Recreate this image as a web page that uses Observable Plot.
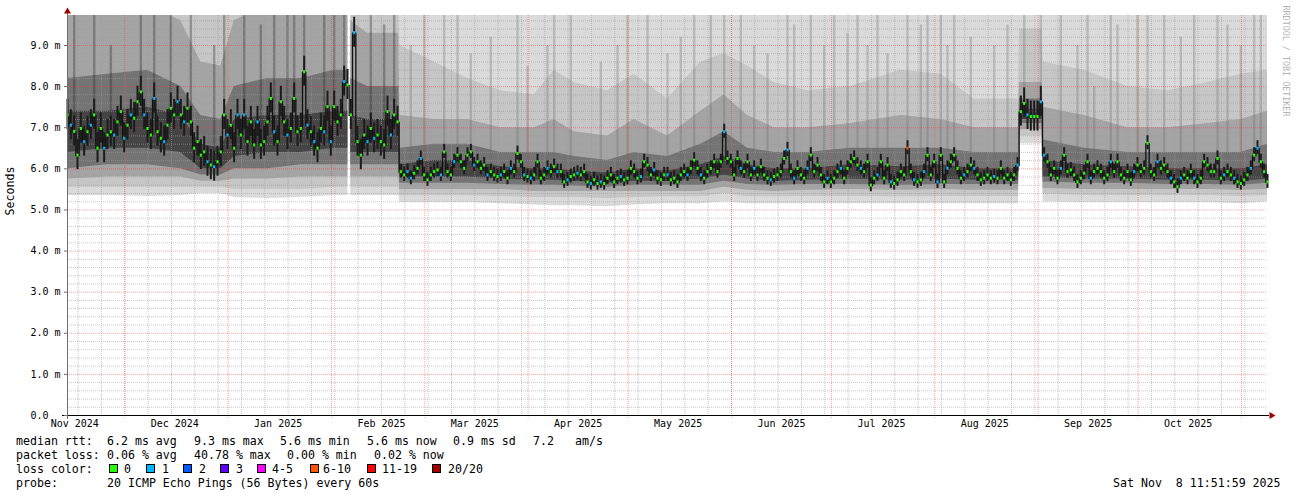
<!DOCTYPE html>
<html><head><meta charset="utf-8">
<script src="https://cdn.jsdelivr.net/npm/d3@7"></script>
<script src="https://cdn.jsdelivr.net/npm/@observablehq/plot@0.6"></script>
<style>
body{margin:0;background:#fff;}
#wrap{position:relative;width:1297px;height:497px;overflow:hidden;background:#fff;}
#wrap svg{display:block;}
.lg{position:absolute;font-family:"DejaVu Sans Mono",monospace;font-size:11.6px;line-height:14px;white-space:pre;color:#000;}
.box{position:absolute;width:7px;height:7px;border:1px solid #000;}
</style></head><body><div id="wrap"></div>
<script>
// ---------- data ----------
const startDate = "2024-11-13T19:30:00Z";
const endDate   = "2025-11-08T19:30:00Z";
// daily median rtt (ms), one value per day from startDate
const medianMs = [
7.30,7.05,6.90,6.32,6.97,6.65,6.89,7.05,7.30,6.49,
6.97,6.49,6.81,6.89,6.81,7.13,7.38,6.73,7.05,7.30,
7.22,7.62,7.86,7.30,6.97,6.81,7.70,6.89,6.73,6.65,
7.05,7.46,7.30,7.62,7.30,7.13,7.46,7.13,6.49,6.65,
6.32,6.40,6.16,6.08,6.04,6.16,6.40,7.30,6.81,7.05,
6.49,7.30,6.81,7.30,6.65,7.13,6.57,7.13,6.57,6.65,
7.13,7.70,6.89,6.65,7.62,7.13,6.81,6.97,7.70,6.89,
6.97,8.35,7.05,6.89,6.65,6.49,6.97,6.89,7.50,6.65,
7.50,7.13,7.30,8.11,8.03,7.30,9.30,6.65,6.32,6.81,
6.65,6.97,6.73,6.81,6.65,6.57,7.38,6.81,7.30,7.13,
5.92,5.84,5.92,5.76,5.88,6.00,6.24,5.84,5.72,5.84,
5.92,5.96,5.84,6.40,5.92,5.84,6.16,6.32,6.16,6.00,
6.32,6.40,6.08,6.16,6.00,6.08,5.84,5.92,5.84,5.80,
5.84,5.92,5.76,6.00,5.92,6.36,6.16,5.84,5.80,5.76,
5.84,6.16,5.76,5.84,6.00,5.92,6.04,5.92,5.92,5.67,
5.72,5.80,5.84,5.88,5.84,5.92,5.67,5.63,5.72,5.63,
5.67,5.63,5.76,5.84,5.67,5.76,5.80,5.72,5.76,6.00,
5.92,5.76,5.80,6.16,6.08,5.84,5.96,5.76,5.72,5.84,
5.84,5.72,5.76,5.67,5.84,5.92,5.84,6.00,6.20,6.00,
5.84,5.76,5.92,6.00,6.16,5.92,6.16,6.89,6.24,6.16,
5.84,6.24,6.00,5.92,6.16,5.84,6.00,5.84,6.04,5.84,
5.76,5.72,5.80,5.84,5.92,6.24,6.45,5.92,5.76,6.00,
5.84,5.76,6.00,6.32,5.92,6.08,5.84,5.67,5.76,5.67,
5.76,5.92,6.00,5.76,6.00,6.16,6.24,6.08,6.00,5.92,
6.16,5.59,5.76,5.84,6.16,5.76,6.08,5.67,5.63,5.72,
5.92,5.84,6.49,5.92,5.72,5.67,5.72,5.92,6.32,5.84,
6.16,5.67,6.32,5.67,6.00,6.16,6.32,6.00,5.76,5.84,
5.92,6.08,6.00,5.84,5.72,5.76,5.84,5.76,5.80,5.76,
6.00,5.76,5.84,5.72,5.84,6.08,7.38,7.58,7.30,7.26,
7.26,7.26,7.62,6.32,6.16,5.84,6.00,5.76,6.00,6.32,
5.92,5.96,5.84,5.67,5.76,5.88,6.16,5.76,5.92,6.00,
5.92,5.76,5.84,6.16,5.92,6.16,5.84,5.76,5.92,5.72,
5.92,6.08,5.92,6.00,6.61,5.92,5.84,6.16,6.00,6.08,
5.92,5.76,5.67,5.55,5.76,5.84,5.76,5.92,5.76,5.67,
5.76,6.16,6.08,5.92,5.92,6.24,5.76,5.84,5.92,5.84,
5.76,5.67,5.63,5.72,5.84,6.00,6.32,6.49,6.16,5.92,
5.67];
// days (index into medianMs) whose median was drawn with 1 lost ping (blue) / 6-10 lost (orange)
const blueDays = [1,5,7,11,14,17,19,23,26,29,33,35,42,44,48,51,53,57,62,66,72,74,77,79,83,86,90,92,97,
102,103,106,112,116,122,126,130,133,137,139,144,147,150,153,157,160,166,172,176,180,186,190,197,202,206,211,
216,218,222,228,232,238,243,247,254,257,261,264,269,272,278,285,288,292,293,298,307,313,320,327,331,334,338,347,350,355,357];
const orangeDays = [252];

// days with a tall smoke streak (slowest pings) and how high it reaches (ms)
const streakDays = [2,8,13,22,26,31,37,44,47,53,58,62,66,68,71,77,80,83,91,95,98,
103,107,113,117,121,127,135,138,144,146,151,160,165,168,174,180,184,188,193,197,202,206,210,216,218,223,227,230,234,237,240,243,246,252,256,258,262,264,266,271,278,282,
287,292,298,303,306,308,313,315,321,324,329,334,338,345,348,352,356,358];
const streakTop = [9.8,9.8,9.0,9.8,9.8,9.8,9.8,9.0,9.8,9.8,9.5,9.8,9.8,9.8,9.8,9.8,9.8,9.8,9.8,9.5,9.8,
9.0,9.8,9.8,9.8,8.8,9.2,9.8,8.5,9.0,9.8,9.8,8.6,9.0,9.8,9.8,8.8,9.2,9.8,9.8,9.8,9.8,9.0,8.8,9.8,9.5,9.8,9.0,9.8,9.3,9.8,9.0,9.8,8.8,9.8,9.5,9.8,9.8,9.0,9.8,9.2,9.0,9.5,
9.8,9.8,9.8,9.0,9.8,8.0,9.8,9.5,9.8,9.8,9.8,9.2,9.8,9.8,9.5,9.0,9.8,9.8];

// smoke (ping distribution) envelopes, day offsets from startDate
const smokeDay = [0,12,24,34,40,46,50,60,70,80,84.1,84.5,85,90,99.4,99.7,110,120,130,140,146,152,162,170,180,190,197,204,212,222,235,250,262,272,285.3,285.6,292.4,292.7,305,318,330,342,352,360];
const smokeLo1 = [5.35,5.35,5.33,5.35,5.4,5.4,5.3,5.28,5.3,5.35,5.35,null,5.35,5.35,5.35,5.18,5.18,5.18,5.15,5.12,5.1,5.1,5.08,5.12,5.15,5.15,5.2,5.15,5.15,5.15,5.15,5.15,5.15,5.15,5.15,6.61,6.61,5.2,5.18,5.18,5.18,5.18,5.15,5.2];
const smokeLo2 = [5.55,5.55,5.55,5.55,5.55,5.55,5.5,5.5,5.5,5.55,5.55,null,5.55,5.55,5.55,5.35,5.35,5.35,5.33,5.3,5.3,5.3,5.28,5.3,5.32,5.32,5.4,5.32,5.32,5.33,5.33,5.32,5.33,5.33,5.33,6.8,6.8,5.38,5.35,5.35,5.35,5.35,5.33,5.35];
const smokeLo3 = [5.75,5.8,5.8,5.8,5.7,5.7,5.75,5.75,5.8,5.8,5.8,null,5.8,5.8,5.8,5.5,5.5,5.5,5.5,5.45,5.45,5.45,5.45,5.45,5.45,5.45,5.55,5.48,5.45,5.48,5.5,5.48,5.5,5.48,5.48,6.95,6.95,5.52,5.5,5.5,5.5,5.5,5.48,5.5];
const smokeLo4 = [6.0,6.1,6.1,6.0,5.85,5.85,6.0,6.0,6.1,6.1,6.1,null,6.1,6.1,6.1,5.65,5.65,5.65,5.62,5.6,5.6,5.58,5.55,5.6,5.6,5.6,5.7,5.62,5.6,5.62,5.62,5.6,5.62,5.62,5.62,7.1,7.1,5.68,5.65,5.65,5.62,5.62,5.6,5.65];
const smokeLo5 = [6.4,6.5,6.5,6.4,6.0,6.0,6.3,6.4,6.4,6.5,6.5,null,6.4,6.4,6.4,5.8,5.8,5.8,5.75,5.72,5.72,5.7,5.65,5.7,5.7,5.75,5.85,5.75,5.7,5.72,5.75,5.72,5.75,5.72,5.72,7.2,7.2,5.8,5.75,5.75,5.72,5.72,5.7,5.75];
const smokeHi5 = [7.4,7.4,7.5,7.3,6.6,6.5,7.2,7.3,7.3,7.4,7.4,null,7.3,7.2,7.2,6.1,6.2,6.2,6.05,6.0,6.0,5.95,5.9,6.0,5.95,6.1,6.3,6.1,6.0,6.0,6.1,6.05,6.1,6.0,6.0,7.45,7.45,6.2,6.1,6.05,6.0,6.0,6.0,6.1];
const smokeHi4 = [8.2,8.3,8.4,8.0,7.3,7.2,8.0,8.2,8.2,8.4,8.4,null,8.2,8.0,8.0,6.5,6.6,6.6,6.4,6.4,6.4,6.3,6.2,6.4,6.3,6.6,6.9,6.5,6.4,6.4,6.5,6.5,6.5,6.4,6.4,7.7,7.7,6.7,6.5,6.4,6.4,6.4,6.4,6.6];
const smokeHi3 = [10,10,10,9.6,8.6,8.5,9.6,10,10,10,10,null,9.6,9.3,9.3,7.3,7.2,7.2,7.0,7.0,7.2,6.9,6.8,7.2,6.8,7.4,7.8,7.3,7.0,7.0,7.1,7.3,7.2,7.0,7.0,8.1,8.1,7.5,7.3,7.0,7.0,7.1,7.2,7.4];
const smokeHi2 = [10,10,10,10,10,10,10,10,10,10,10,null,10,10,10,9.0,8.6,8.2,7.9,7.8,8.4,8.1,7.9,8.3,7.7,8.6,8.8,8.5,8.1,7.9,8.0,8.4,8.3,7.7,7.7,9.4,9.4,8.6,8.4,8.0,7.9,8.1,8.3,8.4];
const smokeHi1 = [10,10,10,10,10,10,10,10,10,10,10,null,10,10,10,10,10,10,10,10,10,10,10,10,10,10,10,10,10,10,10,10,10,10,10,10,10,10,10,10,10,10,10,10];

// axis labels
const monthLabelDates = ["2024-11-16","2024-12-16","2025-01-16","2025-02-16","2025-03-16","2025-04-16","2025-05-16","2025-06-16","2025-07-16","2025-08-16","2025-09-16","2025-10-16"];
const monthLabels = ["Nov 2024","Dec 2024","Jan 2025","Feb 2025","Mar 2025","Apr 2025","May 2025","Jun 2025","Jul 2025","Aug 2025","Sep 2025","Oct 2025"];
const yTicks = [0,1,2,3,4,5,6,7,8,9];
const yTickLabels = ["0.0","1.0 m","2.0 m","3.0 m","4.0 m","5.0 m","6.0 m","7.0 m","8.0 m","9.0 m"];
const yMax = 9.73;

// ---------- build ----------
const DAY = 864e5;
const t0 = new Date(startDate), t1 = new Date(endDate);
const lossColor = {0:"#26ff00",1:"#00b8ff",7:"#ff5500"};
const rows = medianMs.map((v,i)=>({date:new Date(+t0+i*DAY), v, loss: orangeDays.includes(i)?7:(blueDays.includes(i)?1:0), i}));
const isHigh = r => r.i<100 || (r.i>285 && r.i<293);
const streaks = streakDays.map((d,k)=>({date:new Date(+t0+d*DAY), y1:medianMs[d], y2:streakTop[k], early:d<100}));
const smoke = smokeDay.map((d,i)=>({date:new Date(+t0+d*DAY),
  lo1:smokeLo1[i],lo2:smokeLo2[i],lo3:smokeLo3[i],lo4:smokeLo4[i],lo5:smokeLo5[i],
  hi5:smokeHi5[i],hi4:smokeHi4[i],hi3:smokeHi3[i],hi2:smokeHi2[i],hi1:smokeHi1[i]}));
const band = (a,b,fill)=>Plot.areaY(smoke,{x:"date",y1:a,y2:b,fill,curve:"linear",clip:true});
const minorY = d3.range(1,49).filter(i=>i%5!==0).map(i=>i/5);
const majorY = [1,2,3,4,5,6,7,8,9];
const weeks = d3.utcSunday.range(t0,t1);
const months = d3.utcMonth.range(t0,t1);
const labelDates = monthLabelDates.map(s=>new Date(s+"T00:00:00Z"));

const chart = Plot.plot({
  width:1297, height:432,
  marginLeft:67, marginRight:30, marginTop:15, marginBottom:17,
  style:{fontFamily:"DejaVu Sans Mono, monospace", fontSize:"10px", background:"#fff", color:"#000"},
  x:{type:"utc", domain:[t0,t1]},
  y:{domain:[0,yMax]},
  marks:[
    band("lo1","hi1","#dadada"),
    band("lo2","hi2","#c6c6c6"),
    band("lo3","hi3","#a4a4a4"),
    band("lo4","hi4","#747474"),
    band("lo5","hi5","#454545"),
    Plot.ruleX(streaks.filter(s=>s.early),{x:"date",y1:"y1",y2:"y2",stroke:"#2e2e2e",strokeOpacity:0.35,strokeWidth:2.4,clip:true}),
    Plot.ruleX(streaks.filter(s=>!s.early),{x:"date",y1:"y1",y2:"y2",stroke:"#6a6a6a",strokeOpacity:0.3,strokeWidth:2.4,clip:true}),
    Plot.ruleY(minorY,{stroke:"#9a9a9a",strokeOpacity:0.55,strokeDasharray:"1,1"}),
    Plot.ruleX(weeks,{stroke:"#9a9a9a",strokeOpacity:0.55,strokeDasharray:"1,1"}),
    Plot.ruleY(majorY,{stroke:"#ff3030",strokeOpacity:0.45,strokeDasharray:"1,1"}),
    Plot.ruleX(months,{stroke:"#ff3030",strokeOpacity:0.45,strokeDasharray:"1,1",insetBottom:-3}),
    Plot.ruleX(rows.filter(isHigh),{x:"date",y1:"v",y2:"v",insetTop:-16,insetBottom:-14,stroke:"#1c1c1c",strokeWidth:2}),
    Plot.ruleX(rows.filter(r=>!isHigh(r)),{x:"date",y1:"v",y2:"v",insetTop:-8,insetBottom:-6,stroke:"#1c1c1c",strokeWidth:2}),
    Plot.line(rows,{x:"date",y:"v",curve:"step",stroke:"#111",strokeWidth:1.3}),
    Plot.ruleX(rows,{x:"date",y1:"v",y2:"v",insetTop:-1.5,insetBottom:-1.5,stroke:d=>lossColor[d.loss],strokeWidth:2.2}),
    Plot.ruleY([0],{stroke:"#000",strokeWidth:1,insetLeft:-5,insetRight:-2}),
    Plot.ruleX([t0],{stroke:"#6e6e6e",strokeWidth:1,insetTop:-5,insetBottom:-4}),
    Plot.dot([0],{x:()=>t0,y:()=>yMax,dy:-4,symbol:"triangle",r:2.6,fill:"#a00000",stroke:"none"}),
    Plot.dot([0],{x:()=>t1,y:()=>0,dx:4,symbol:"triangle",rotate:90,r:2.6,fill:"#a00000",stroke:"none"}),
    Plot.axisY({ticks:yTicks,tickFormat:d=>yTickLabels[yTicks.indexOf(d)],tickSize:3,tickPadding:34,textAnchor:"start",stroke:"#6e6e6e",fontSize:10}),
    Plot.axisX({ticks:labelDates,tickFormat:d=>monthLabels[labelDates.findIndex(x=>+x===+d)],tickSize:0,tickPadding:4,fontSize:10}),
    Plot.text(["Seconds"],{frameAnchor:"left",dx:-57,rotate:-90,fontSize:11.6,fill:"#000"}),
    Plot.text(["RRDTOOL / TOBI OETIKER"],{frameAnchor:"top-right",dx:21,dy:-10,rotate:90,textAnchor:"start",fontSize:8.4,fill:"#b4b4b4"})
  ]
});
const wrap = document.getElementById("wrap");
wrap.appendChild(chart);

// ---------- legend (below the svg) ----------
const legendItems = [
  ["median rtt:",16,434],["6.2 ms avg",107,434],["9.3 ms max",194,434],["5.6 ms min",280,434],["5.6 ms now",367,434],["0.9 ms sd",453,434],["7.2",533,434],["am/s",575,434],
  ["packet loss:",16,448],["0.06 % avg",107,448],["40.78 % max",194,448],["0.00 % min",287,448],["0.02 % now",374,448],
  ["loss color:",16,462],
  ["probe:",16,476],["20 ICMP Echo Pings (56 Bytes) every 60s",107,476],["Sat Nov  8 11:51:59 2025",1113,476]
];
const lossLegend = [["0","#26ff00",109,124],["1","#00b8ff",146,162],["2","#0059ff",183,199],["3","#5e00ff",220,236],["4-5","#ff00ff",257,272],["6-10","#ff5500",310,323],["11-19","#ff0000",367,382],["20/20","#a00000",432,448]];
for(const [t,x,y] of legendItems){const s=document.createElement("span");s.className="lg";s.textContent=t;s.style.left=x+"px";s.style.top=y+"px";wrap.appendChild(s);}
for(const [t,c,bx,tx] of lossLegend){
  const b=document.createElement("span");b.className="box";b.style.left=bx+"px";b.style.top="464px";b.style.background=c;wrap.appendChild(b);
  const s=document.createElement("span");s.className="lg";s.textContent=t;s.style.left=tx+"px";s.style.top="462px";wrap.appendChild(s);
}
</script></body></html>
